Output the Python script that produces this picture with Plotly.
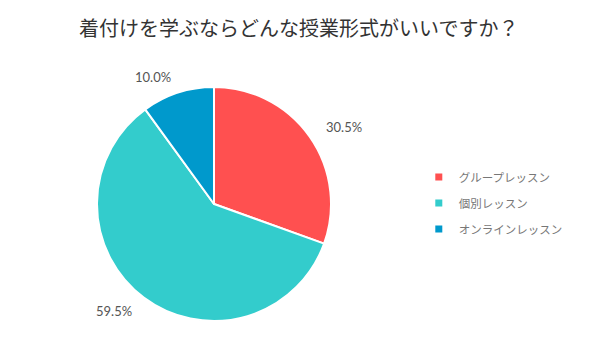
import math
import plotly.graph_objects as go

labels = ["グループレッスン", "個別レッスン", "オンラインレッスン"]
values = [30.5, 59.5, 10.0]
colors = ["#FF5050", "#33CCCC", "#0099CC"]
title_text = "着付けを学ぶならどんな授業形式がいいですか？"

W, H = 600, 360
# pie geometry in pixels
CX, CY, R = 214, 204, 117
LABEL_R = 134

fig = go.Figure()
fig.add_trace(go.Pie(
    labels=labels, values=values, sort=False, direction="clockwise", rotation=0,
    marker=dict(colors=colors, line=dict(color="white", width=2)),
    textinfo="none", showlegend=False,
    domain=dict(x=[(CX - R) / W, (CX + R) / W], y=[1 - (CY + R) / H, 1 - (CY - R) / H]),
    hoverinfo="label+percent",
))

# legend entries (small square markers)
for lab, col in zip(labels, colors):
    fig.add_trace(go.Scatter(
        x=[None], y=[None], mode="markers", name=lab, legendgroup=lab,
        marker=dict(symbol="square", size=7, color=col), hoverinfo="skip",
    ))

# percentage labels outside the slices
total = sum(values)
cum = 0.0
for v in values:
    mid = (cum + v / 2) / total * 2 * math.pi
    cum += v
    sx, cy_ = math.sin(mid), math.cos(mid)
    px = CX + LABEL_R * sx
    py = CY - LABEL_R * cy_
    fig.add_annotation(
        x=px / W, y=1 - py / H, xref="paper", yref="paper",
        text=f"{v:.1f}%", showarrow=False,
        xanchor="left" if sx > 0 else "right", yanchor="middle",
        font=dict(size=13, color="#555555", family="Lato, Noto Sans CJK JP"),
    )

fig.update_layout(
    width=W, height=H,
    margin=dict(l=0, r=0, t=0, b=0),
    paper_bgcolor="white", plot_bgcolor="white",
    font=dict(family="Lato, Noto Sans CJK JP", color="#555555"),
    xaxis=dict(visible=False), yaxis=dict(visible=False),
    title=dict(text=title_text, x=79 / W, xanchor="left", y=1 - 29 / H, yanchor="middle",
               font=dict(size=20, color="#333333", family="Noto Sans CJK JP")),
    legend=dict(x=0.698, xanchor="left", y=1 - 203 / H, yanchor="middle",
                font=dict(size=11.5, color="#777777", family="Noto Sans CJK JP"),
                itemwidth=30, tracegroupgap=7, traceorder="grouped"),
)
fig.write_html("out.html", config={"displayModeBar": False},
               post_script="document.body.style.margin='0px';")
